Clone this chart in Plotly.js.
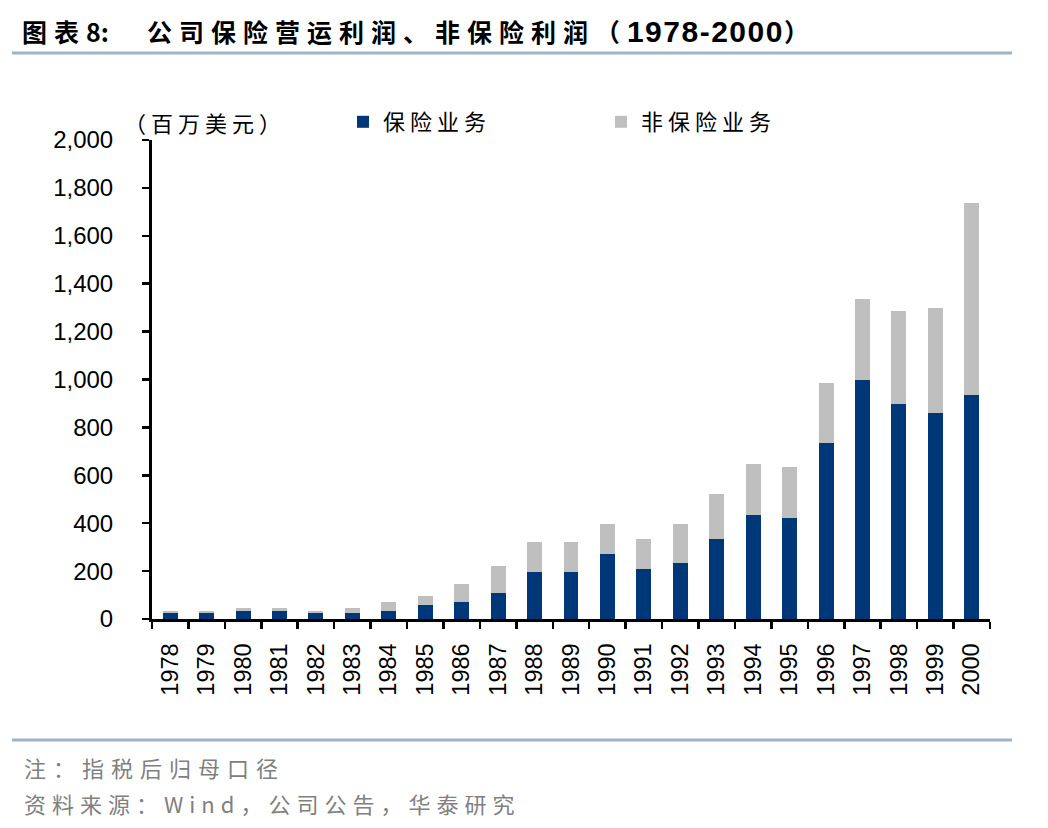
<!DOCTYPE html>
<html>
<head>
<meta charset="utf-8">
<script src="https://cdn.plot.ly/plotly-3.0.1.min.js"></script>
<style>
  html, body { margin: 0; padding: 0; background: #fff; }
  #chart { width: 1048px; height: 828px; }
</style>
</head>
<body>
<div id="chart"></div>
<script>
// years and profits (million USD)
const years = ["1978", "1979", "1980", "1981", "1982", "1983", "1984", "1985",
  "1986", "1987", "1988", "1989", "1990", "1991", "1992", "1993", "1994",
  "1995", "1996", "1997", "1998", "1999", "2000"];
const insurance = [24, 24, 35, 35, 24, 24, 35, 60, 73, 110, 198, 198, 273,
  210, 235, 335, 435, 423, 735, 998, 898, 860, 935];
const nonInsurance = [11, 11, 13, 13, 11, 24, 38, 38, 75, 113, 125, 125, 125,
  125, 163, 188, 213, 212, 250, 337, 387, 438, 800];
const yTicks = [0, 200, 400, 600, 800, 1000, 1200, 1400, 1600, 1800, 2000];

const cjk = '"Noto Sans CJK SC", "Liberation Sans", sans-serif';
const arial = '"Liberation Sans", Arial, sans-serif';

// plot area: x 152..990 px, y 140..619 px
const px = (x) => (x - 152) / 838;
const py = (y) => (619 - y) / 479;
// wide tracking like the original's CJK text
const spaced = (s, n) => '<span style="letter-spacing:' + n + 'px">' + s + '</span>';

const titleText = "<b>" + spaced("图表", 7) + "8" + spaced(":", 38) +
  spaced("公司保险营运利润、非保险利润（", 7) +
  '<span style="font-family:Liberation Sans;font-size:30px;letter-spacing:1.5px">1978-2000</span>' +
  "）</b>";

const traceIns = {
  name: spaced("保险业务", 5),
  x: years,
  y: insurance,
  type: "bar",
  marker: { color: "#003778" },
  hoverinfo: "x+y",
};
const traceNon = {
  name: spaced("非保险业务", 5),
  x: years,
  y: nonInsurance,
  type: "bar",
  marker: { color: "#bfbfbf" },
  hoverinfo: "x+y",
};

const lineColor = "#9fb4ca";

const layout = {
  width: 1048,
  height: 828,
  paper_bgcolor: "#fff",
  plot_bgcolor: "#fff",
  margin: { l: 152, r: 58, t: 140, b: 209, pad: 0 },
  barmode: "stack",
  bargap: 0.59,
  font: { family: arial, color: "#000", size: 20 },
  title: {
    text: titleText,
    font: { family: cjk, size: 25, color: "#000" },
    xref: "container",
    yref: "container",
    x: 22 / 1048,
    xanchor: "left",
    y: 1 - 33 / 828,
    yanchor: "middle",
  },
  showlegend: true,
  legend: {
    orientation: "h",
    x: px(343),
    xanchor: "left",
    y: py(122),
    yanchor: "middle",
    font: { family: cjk, size: 22, color: "#000" },
    itemwidth: 30,
    entrywidth: 213,
    entrywidthmode: "pixels",
    traceorder: "normal",
    bgcolor: "rgba(0,0,0,0)",
  },
  xaxis: {
    type: "category",
    range: [-0.5, years.length - 0.5],
    tickangle: -90,
    tickson: "boundaries",
    ticks: "outside",
    ticklen: 7,
    tickwidth: 2.5,
    tickcolor: "#000",
    showline: true,
    linecolor: "#000",
    linewidth: 3,
    showgrid: false,
    zeroline: false,
    ticklabelstandoff: 12,
    tickfont: { family: arial, size: 23.5, color: "#000" },
    fixedrange: true,
  },
  yaxis: {
    range: [0, 2000],
    tickmode: "array",
    tickvals: yTicks,
    tickformat: ",",
    ticks: "outside",
    ticklen: 7,
    tickwidth: 2.5,
    tickcolor: "#000",
    showline: true,
    linecolor: "#000",
    linewidth: 3,
    showgrid: false,
    zeroline: false,
    ticklabelstandoff: 24,
    tickfont: { family: arial, size: 24, color: "#000" },
    fixedrange: true,
  },
  shapes: [
    {
      type: "line", xref: "paper", yref: "paper",
      x0: px(12), x1: px(1012), y0: py(53), y1: py(53),
      line: { color: lineColor, width: 3 },
    },
    {
      type: "line", xref: "paper", yref: "paper",
      x0: px(12), x1: px(1012), y0: py(740), y1: py(740),
      line: { color: lineColor, width: 3 },
    },
  ],
  annotations: [
    {
      text: spaced("（百万美元）", 5),
      xref: "paper", yref: "paper",
      x: px(122), xanchor: "left",
      y: py(122), yanchor: "middle",
      showarrow: false,
      font: { family: cjk, size: 22, color: "#000" },
    },
    {
      text: spaced("注：指税后归母口径", 7),
      xref: "paper", yref: "paper",
      x: px(22), xanchor: "left",
      y: py(767), yanchor: "middle",
      showarrow: false,
      font: { family: cjk, size: 22, color: "#808080" },
    },
    {
      text: spaced("资料来源：Wind，公司公告，华泰研究", 6),
      xref: "paper", yref: "paper",
      x: px(22), xanchor: "left",
      y: py(803), yanchor: "middle",
      showarrow: false,
      font: { family: cjk, size: 22, color: "#808080" },
    },
  ],
};

Plotly.newPlot("chart", [traceIns, traceNon], layout, { displayModeBar: false, staticPlot: true });
</script>
</body>
</html>
